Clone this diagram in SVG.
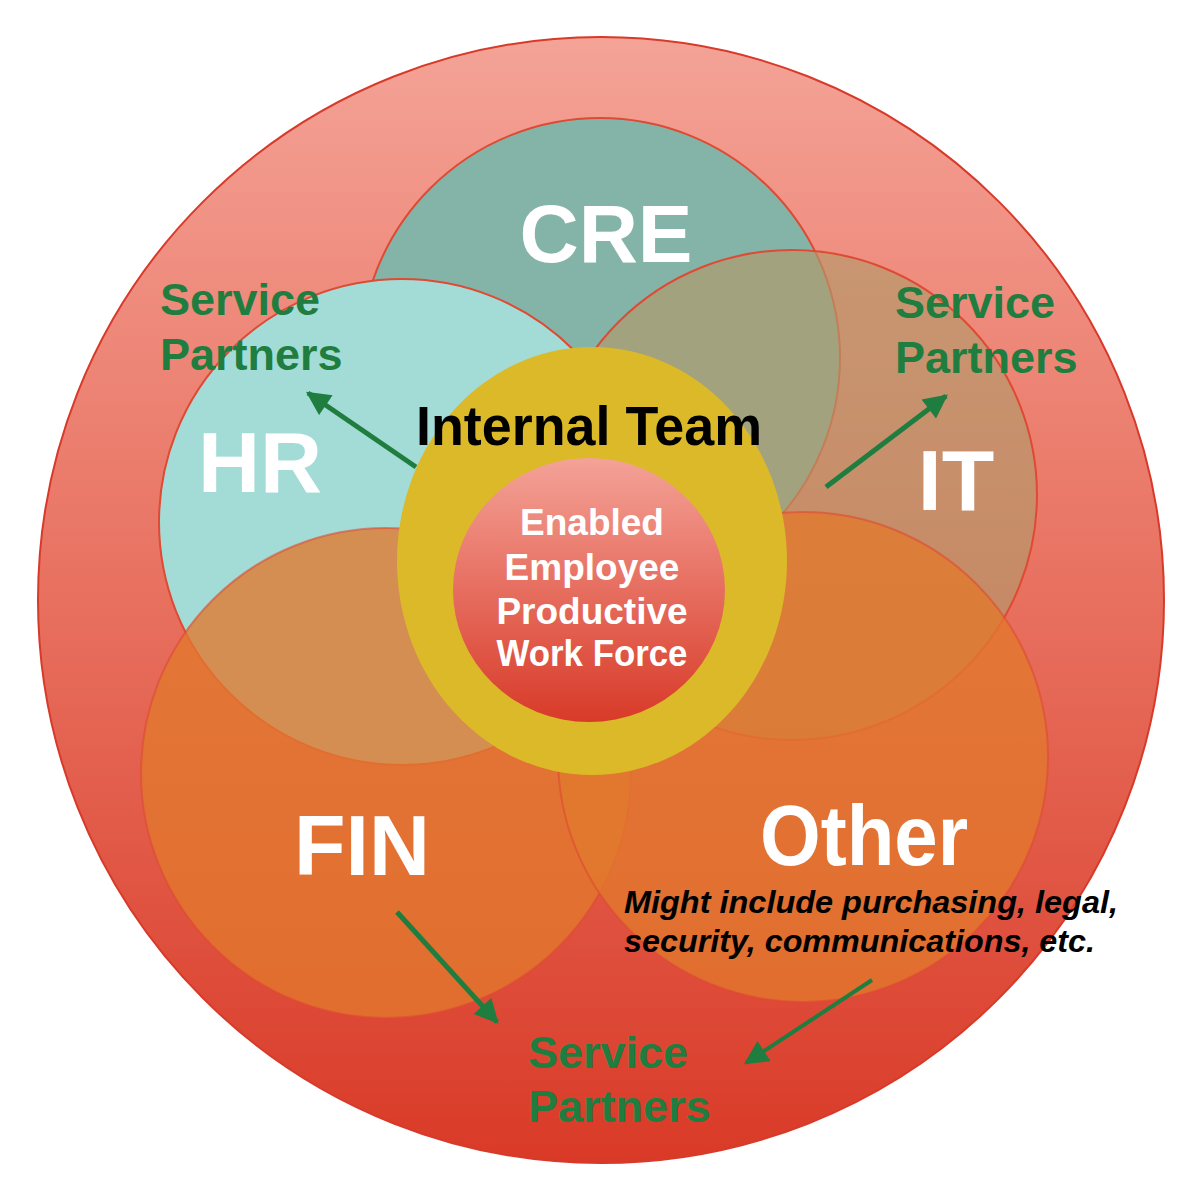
<svg xmlns="http://www.w3.org/2000/svg" width="1200" height="1200" viewBox="0 0 1200 1200">
<defs>
<linearGradient id="gOuter" x1="0" y1="0" x2="0" y2="1">
<stop offset="0" stop-color="#f4a397"/>
<stop offset="0.5" stop-color="#e8705f"/>
<stop offset="1" stop-color="#d93a27"/>
</linearGradient>
<linearGradient id="gInner" x1="0" y1="0" x2="0" y2="1">
<stop offset="0" stop-color="#f4a297"/>
<stop offset="1" stop-color="#d83a28"/>
</linearGradient>
<marker id="ah" viewBox="0 0 10 10" refX="9" refY="5" markerWidth="26" markerHeight="24" markerUnits="userSpaceOnUse" orient="auto">
<path d="M0,0 L10,5 L0,10 Z" fill="#1f7d3f"/>
</marker>
<style>
.big{font-family:"Liberation Sans",Arial,sans-serif;font-weight:bold;fill:#ffffff;text-anchor:middle}
.sp{font-family:"Liberation Sans",Arial,sans-serif;font-weight:bold;fill:#1f7d3f;font-size:45px}
.ctr{font-family:"Liberation Sans",Arial,sans-serif;font-weight:bold;fill:#ffffff;font-size:37px;text-anchor:middle}
.it{font-family:"Liberation Sans",Arial,sans-serif;font-weight:bold;font-style:italic;fill:#000000;font-size:32px}
.arr{stroke:#1f7d3f;stroke-width:5;fill:none;marker-end:url(#ah)}
.ring{stroke:#de4a33;stroke-width:2}
</style>
</defs>
<g id="outer">
<circle cx="601" cy="600" r="563" fill="url(#gOuter)" stroke="#d83a2a" stroke-width="2"/>
</g>
<g id="cre">
<circle class="ring" cx="600" cy="358" r="240" fill="#84b3a7"/>
<text class="big" x="606" y="262" font-size="82">CRE</text>
</g>
<g id="hr">
<circle class="ring" cx="402" cy="522" r="243" fill="#a3dcd6"/>
<text class="big" x="260" y="492" font-size="86">HR</text>
</g>
<g id="it">
<circle class="ring" cx="792" cy="495" r="245" fill="#b4996a" fill-opacity="0.65"/>
<text class="big" x="956" y="510" font-size="86">IT</text>
</g>
<g id="fin">
<circle class="ring" cx="386" cy="773" r="245" fill="#e2792d" fill-opacity="0.78" stroke-opacity="0.6"/>
<text class="big" x="362" y="875" font-size="86" textLength="136" lengthAdjust="spacingAndGlyphs">FIN</text>
</g>
<g id="other">
<circle class="ring" cx="803" cy="757" r="245" fill="#e2792d" fill-opacity="0.78" stroke-opacity="0.6"/>
<text class="big" x="864" y="865" font-size="86" textLength="208" lengthAdjust="spacingAndGlyphs">Other</text>
<text class="it" x="624" y="913" textLength="494" lengthAdjust="spacingAndGlyphs">Might include purchasing, legal,</text>
<text class="it" x="624" y="952" textLength="471" lengthAdjust="spacingAndGlyphs">security, communications, etc.</text>
</g>
<g id="connectors">
<line class="arr" x1="416" y1="467" x2="308" y2="393"/>
<line class="arr" x1="826" y1="487" x2="946" y2="396"/>
<line class="arr" x1="397" y1="912" x2="497" y2="1022"/>
<line class="arr" x1="872" y1="980" x2="746" y2="1063" style="stroke-width:4"/>
</g>
<g id="internal-team">
<ellipse cx="592" cy="561" rx="195" ry="214" fill="#dbb928"/>
<text x="589" y="445" font-family="Liberation Sans, Arial, sans-serif" font-weight="bold" font-size="56" fill="#000000" text-anchor="middle" textLength="346" lengthAdjust="spacingAndGlyphs">Internal Team</text>
</g>
<g id="enabled-employee">
<ellipse cx="589" cy="590" rx="136" ry="132" fill="url(#gInner)"/>
<text class="ctr" x="592" y="535">Enabled</text>
<text class="ctr" x="592" y="580">Employee</text>
<text class="ctr" x="592" y="624">Productive</text>
<text class="ctr" x="592" y="666" textLength="191" lengthAdjust="spacingAndGlyphs">Work Force</text>
</g>
<g id="service-partners-hr">
<text class="sp" x="160" y="315">Service</text>
<text class="sp" x="160" y="370">Partners</text>
</g>
<g id="service-partners-it">
<text class="sp" x="895" y="318">Service</text>
<text class="sp" x="895" y="373">Partners</text>
</g>
<g id="service-partners-bottom">
<text class="sp" x="528" y="1068">Service</text>
<text class="sp" x="528" y="1122">Partners</text>
</g>
</svg>
